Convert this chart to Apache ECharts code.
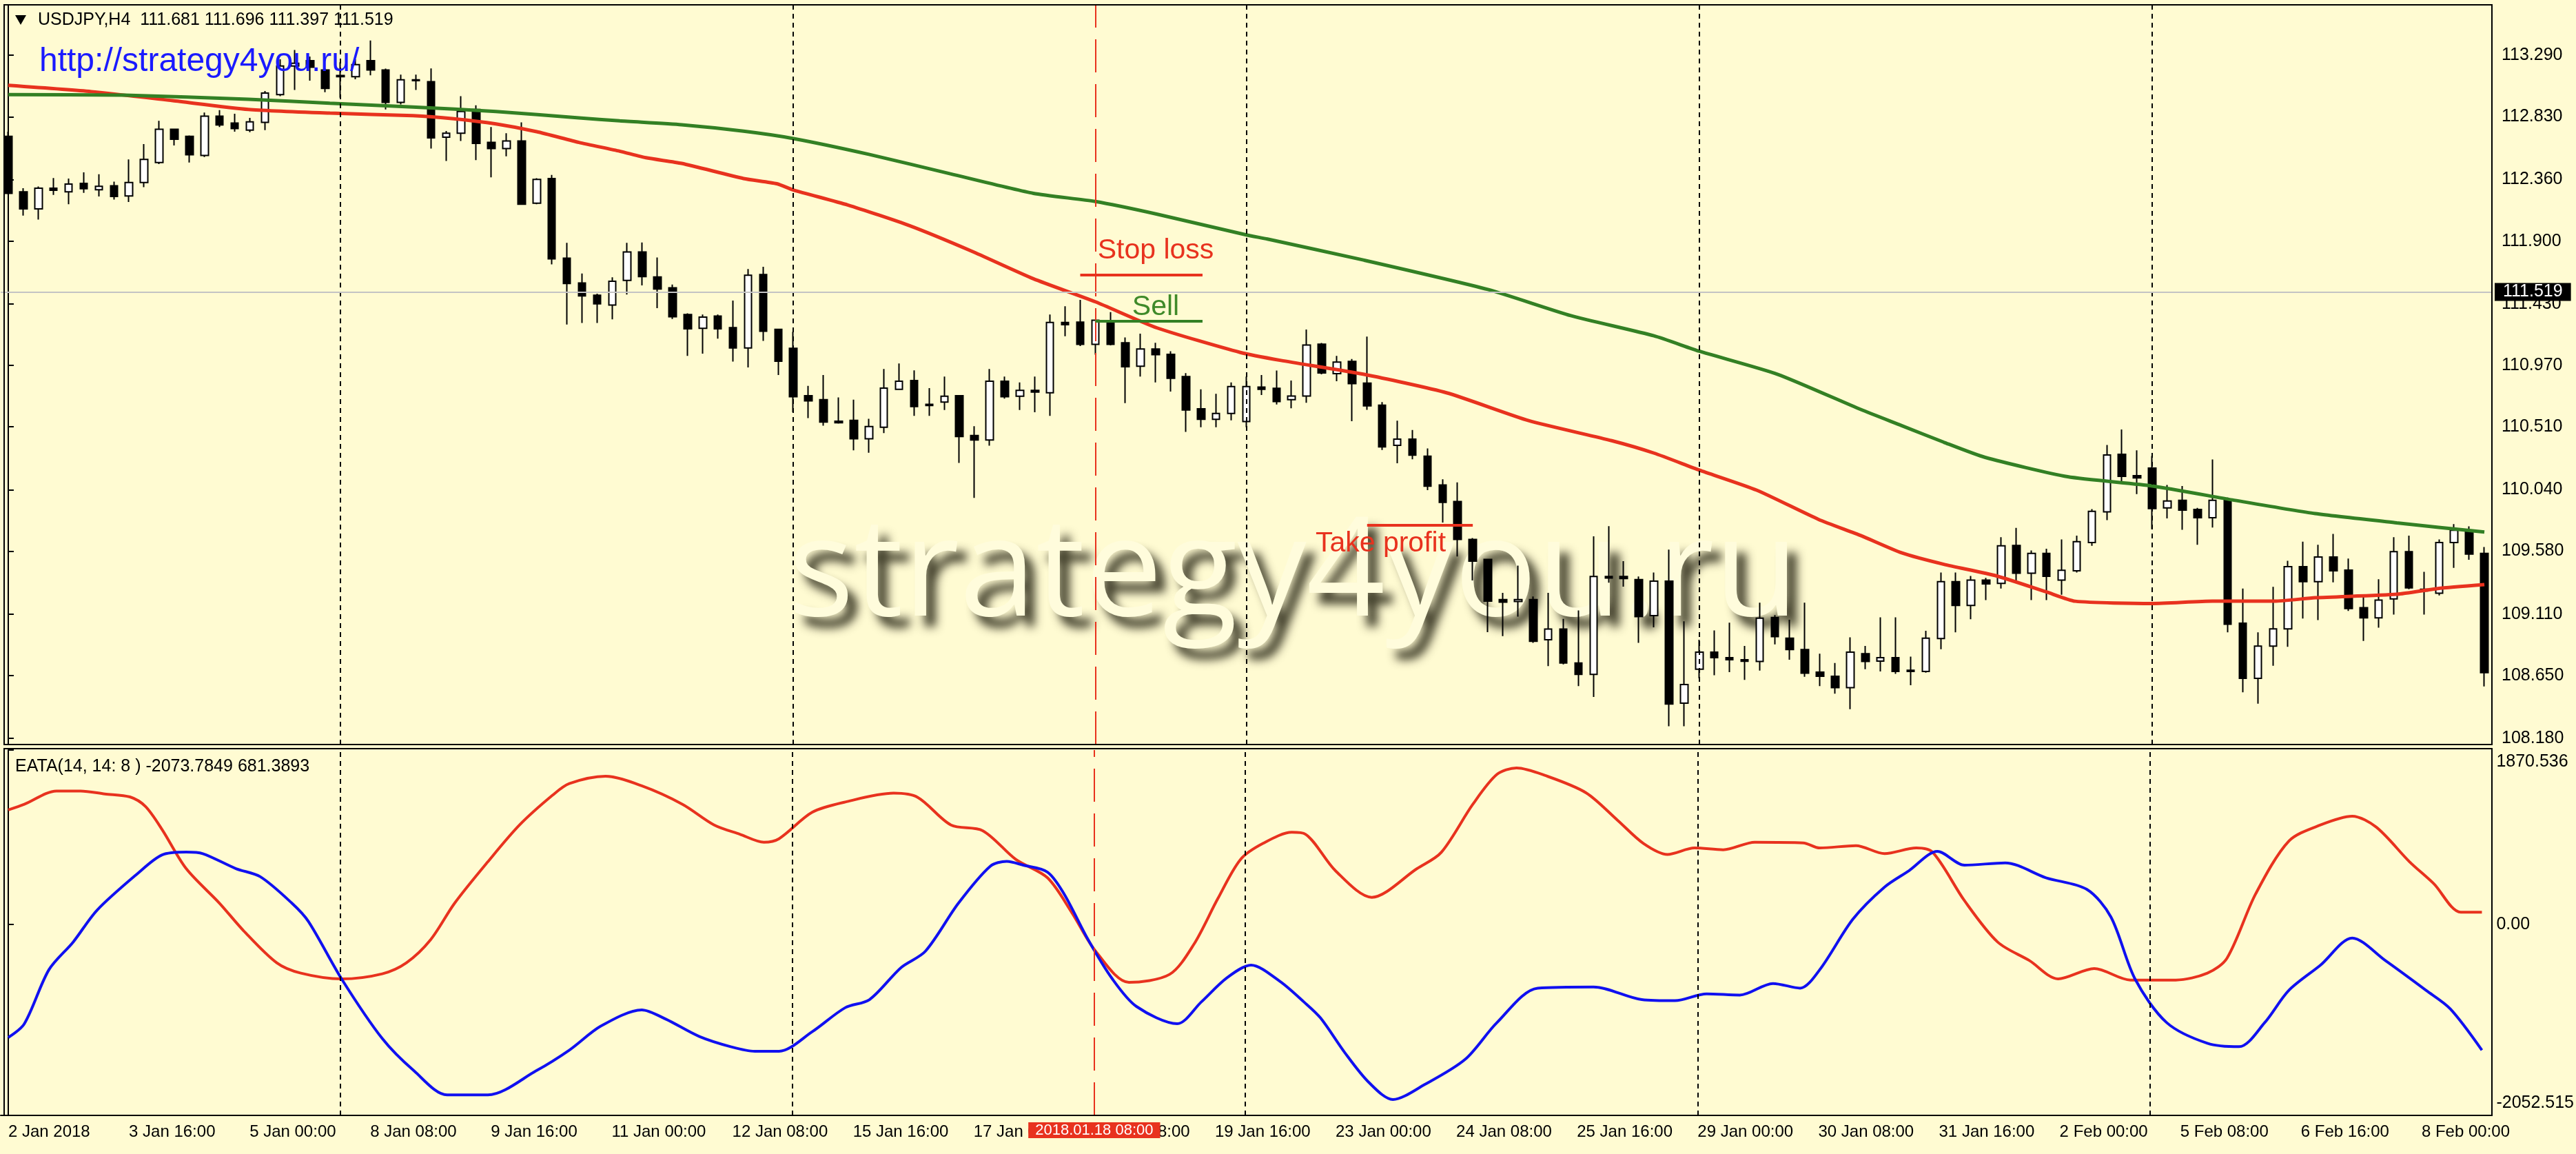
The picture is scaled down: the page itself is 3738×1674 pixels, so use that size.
<!DOCTYPE html>
<html>
<head>
<meta charset="utf-8">
<title>USDJPY H4 - EATA</title>
<script src="https://cdn.jsdelivr.net/npm/echarts@6/dist/echarts.min.js"></script>
<style>
  html, body { margin: 0; padding: 0; background: #fffbd2; }
  #chart { width: 3738px; height: 1674px; }
</style>
</head>
<body>
<div id="chart"></div>
<script>
// x axis labels, one every 8 bars (H4)
const tickLabels = ['2 Jan 2018', '3 Jan 16:00', '5 Jan 00:00', '8 Jan 08:00', '9 Jan 16:00', '11 Jan 00:00',
  '12 Jan 08:00', '15 Jan 16:00', '17 Jan 00:00', '18 Jan 08:00', '19 Jan 16:00', '23 Jan 00:00', '24 Jan 08:00',
  '25 Jan 16:00', '29 Jan 00:00', '30 Jan 08:00', '31 Jan 16:00', '2 Feb 00:00', '5 Feb 08:00', '6 Feb 16:00', '8 Feb 00:00'];
const labelStep = 8;

const openVals = [
  112.684, 112.268, 112.141, 112.296, 112.268, 112.331, 112.284, 112.314, 112.238, 112.338,
  112.488, 112.737, 112.684, 112.541, 112.834, 112.783, 112.730, 112.788, 112.995, 113.210,
  113.250, 113.180, 113.139, 113.130, 113.250, 113.180, 112.938, 113.106, 113.092, 112.677,
  112.707, 112.885, 112.638, 112.592, 112.649, 112.183, 112.368, 111.772, 111.587, 111.495,
  111.421, 111.606, 111.818, 111.632, 111.550, 111.351, 111.248, 111.339, 111.253, 111.101,
  111.650, 111.239, 111.098, 110.743, 110.714, 110.553, 110.559, 110.421, 110.507, 110.791,
  110.857, 110.679, 110.696, 110.743, 110.446, 110.412, 110.851, 110.739, 110.783, 110.765,
  111.291, 111.294, 111.127, 111.300, 111.139, 110.964, 111.093, 111.053, 110.886, 110.645,
  110.567, 110.610, 110.550, 110.808, 110.799, 110.714, 110.741, 111.129, 110.908, 111.000,
  110.838, 110.672, 110.372, 110.418, 110.291, 110.076, 109.952, 109.668, 109.518, 109.218,
  109.204, 109.218, 108.918, 108.998, 108.744, 108.659, 109.391, 109.391, 109.368, 109.098,
  109.356, 108.444, 108.698, 108.825, 108.784, 108.768, 108.756, 109.084, 108.929, 108.844,
  108.675, 108.645, 108.560, 108.814, 108.758, 108.784, 108.689, 108.680, 108.927, 109.352,
  109.175, 109.364, 109.340, 109.623, 109.416, 109.564, 109.364, 109.433, 109.645, 109.875,
  110.305, 110.145, 110.202, 109.904, 109.961, 109.892, 109.830, 109.964, 109.042, 108.629,
  108.870, 108.999, 109.464, 109.352, 109.537, 109.439, 109.158, 109.082, 109.223, 109.576,
  109.296, 109.266, 109.645, 109.723, 109.564
];
const closeVals = [
  112.257, 112.141, 112.296, 112.280, 112.326, 112.291, 112.310, 112.234, 112.338, 112.511,
  112.737, 112.661, 112.545, 112.834, 112.769, 112.742, 112.792, 113.007, 113.210, 113.230,
  113.200, 113.042, 113.130, 113.220, 113.180, 112.938, 113.106, 113.100, 112.672, 112.707,
  112.869, 112.631, 112.592, 112.649, 112.176, 112.361, 111.767, 111.583, 111.490, 111.430,
  111.599, 111.818, 111.634, 111.541, 111.334, 111.243, 111.331, 111.243, 111.101, 111.644,
  111.226, 111.001, 110.736, 110.705, 110.546, 110.541, 110.421, 110.512, 110.800, 110.851,
  110.662, 110.670, 110.739, 110.438, 110.412, 110.851, 110.736, 110.783, 110.770, 111.291,
  111.274, 111.127, 111.308, 111.127, 110.960, 111.093, 111.050, 110.874, 110.636, 110.567,
  110.610, 110.812, 110.812, 110.791, 110.700, 110.741, 111.122, 110.914, 110.995, 110.834,
  110.667, 110.360, 110.418, 110.298, 110.067, 109.945, 109.668, 109.506, 109.206, 109.199,
  109.218, 108.906, 108.998, 108.744, 108.659, 109.391, 109.379, 109.375, 109.091, 109.356,
  108.437, 108.583, 108.825, 108.784, 108.768, 108.757, 109.079, 108.941, 108.844, 108.668,
  108.645, 108.560, 108.825, 108.756, 108.784, 108.680, 108.680, 108.930, 109.352, 109.175,
  109.364, 109.335, 109.620, 109.416, 109.564, 109.392, 109.438, 109.651, 109.878, 110.300,
  110.140, 110.128, 109.899, 109.956, 109.887, 109.830, 109.961, 109.034, 108.629, 108.870,
  108.999, 109.464, 109.352, 109.537, 109.433, 109.151, 109.082, 109.214, 109.576, 109.306,
  109.283, 109.645, 109.737, 109.559, 108.672
];
const lowVals = [
  112.250, 112.091, 112.061, 112.245, 112.176, 112.261, 112.234, 112.211, 112.192, 112.303,
  112.476, 112.615, 112.488, 112.529, 112.753, 112.718, 112.714, 112.730, 112.984, 113.030,
  113.100, 113.014, 112.972, 113.110, 113.140, 112.885, 112.922, 113.030, 112.592, 112.499,
  112.649, 112.506, 112.377, 112.534, 112.170, 112.176, 111.726, 111.276, 111.287, 111.287,
  111.315, 111.500, 111.569, 111.398, 111.317, 111.041, 111.058, 111.170, 110.998, 110.955,
  111.153, 110.898, 110.619, 110.576, 110.519, 110.535, 110.334, 110.317, 110.464, 110.790,
  110.593, 110.593, 110.636, 110.240, 109.979, 110.369, 110.722, 110.636, 110.619, 110.593,
  111.188, 111.115, 111.050, 111.120, 110.688, 110.886, 110.843, 110.774, 110.472, 110.507,
  110.507, 110.559, 110.507, 110.748, 110.677, 110.649, 110.690, 110.903, 110.852, 110.552,
  110.637, 110.337, 110.238, 110.268, 110.037, 109.795, 109.541, 109.361, 108.975, 108.945,
  109.091, 108.894, 108.721, 108.733, 108.571, 108.490, 109.345, 109.315, 108.894, 109.010,
  108.271, 108.271, 108.629, 108.652, 108.675, 108.618, 108.687, 108.883, 108.768, 108.641,
  108.571, 108.514, 108.398, 108.698, 108.680, 108.663, 108.577, 108.672, 108.847, 108.973,
  109.071, 109.214, 109.301, 109.352, 109.214, 109.214, 109.254, 109.421, 109.620, 109.813,
  110.102, 110.007, 109.744, 109.826, 109.740, 109.628, 109.757, 108.973, 108.525, 108.439,
  108.723, 108.865, 109.077, 109.065, 109.347, 109.133, 108.909, 109.008, 109.106, 109.296,
  109.106, 109.249, 109.456, 109.516, 108.568
];
const highVals = [
  112.718, 112.296, 112.308, 112.372, 112.368, 112.414, 112.400, 112.345, 112.511, 112.626,
  112.799, 112.740, 112.690, 112.862, 112.880, 112.852, 112.822, 113.023, 113.260, 113.330,
  113.280, 113.192, 113.238, 113.260, 113.400, 113.190, 113.145, 113.145, 113.192, 112.723,
  112.984, 112.915, 112.753, 112.707, 112.788, 112.370, 112.395, 111.887, 111.657, 111.507,
  111.629, 111.887, 111.890, 111.777, 111.575, 111.360, 111.351, 111.351, 111.455, 111.691,
  111.708, 111.240, 111.222, 110.817, 110.898, 110.731, 110.714, 110.571, 110.943, 110.984,
  110.933, 110.800, 110.886, 110.745, 110.515, 110.943, 110.886, 110.843, 110.886, 111.351,
  111.412, 111.460, 111.310, 111.369, 111.179, 111.208, 111.139, 111.076, 110.912, 110.791,
  110.757, 110.843, 110.886, 110.898, 110.931, 110.857, 111.238, 111.138, 111.041, 111.018,
  111.185, 110.695, 110.557, 110.487, 110.349, 110.118, 110.095, 109.679, 109.520, 109.269,
  109.472, 109.241, 109.269, 109.074, 109.137, 109.691, 109.767, 109.506, 109.391, 109.421,
  109.592, 109.056, 108.918, 108.987, 109.045, 108.871, 109.195, 109.102, 109.068, 109.195,
  108.814, 108.744, 108.936, 108.871, 109.085, 109.085, 108.792, 108.985, 109.421, 109.421,
  109.395, 109.380, 109.685, 109.754, 109.585, 109.599, 109.668, 109.697, 109.895, 110.374,
  110.490, 110.335, 110.292, 110.076, 110.068, 109.904, 110.266, 109.981, 109.301, 108.973,
  109.313, 109.508, 109.651, 109.628, 109.709, 109.525, 109.254, 109.370, 109.685, 109.697,
  109.426, 109.668, 109.783, 109.766, 109.611
];

// moving averages, [bar, price]
const maRed = [[0, 113.065], [5.5, 113.018], [10.9, 112.95], [15.9, 112.885], [21.3, 112.857], [26.8, 112.838],
  [29.5, 112.815], [32.3, 112.776], [35, 112.718], [37.8, 112.638], [40.5, 112.572], [42.3, 112.522], [44.6, 112.481],
  [48.7, 112.368], [50.9, 112.329], [52, 112.282], [55.6, 112.17], [59.7, 112.015], [63.8, 111.825], [67.9, 111.618],
  [72, 111.446], [76.1, 111.25], [81.6, 111.067], [84.3, 111.007], [89.8, 110.903], [95.3, 110.764], [100.7, 110.557],
  [106.2, 110.407], [109, 110.314], [112, 110.187], [115.8, 110.037], [119.9, 109.818], [122.7, 109.697],
  [125.4, 109.568], [128.2, 109.482], [131.7, 109.395], [135, 109.275], [136.9, 109.206], [142, 109.189],
  [146, 109.206], [150.1, 109.206], [152.8, 109.232], [158.2, 109.258], [160.9, 109.301], [164, 109.33]];
const maGreen = [[0, 112.995], [7.7, 112.991], [15.9, 112.961], [21.3, 112.931], [26.8, 112.903], [32.3, 112.869],
  [37.8, 112.822], [40.5, 112.799], [44.6, 112.77], [48.7, 112.722], [52, 112.667], [57, 112.549], [62.4, 112.403],
  [67.9, 112.257], [72, 112.196], [76.1, 112.101], [82, 111.946], [83.4, 111.915], [89.8, 111.757], [98, 111.538],
  [103.5, 111.342], [109, 111.191], [112, 111.076], [117.2, 110.903], [122.7, 110.64], [125.4, 110.52],
  [128.2, 110.395], [130.9, 110.283], [136.4, 110.137], [142, 110.068], [147.3, 109.964], [152.8, 109.861],
  [158.2, 109.792], [164, 109.723]];

// EATA indicator lines
const eataRed = [[0, 1227], [1.07, 1288], [3.2, 1431], [4.8, 1431], [6.4, 1399], [8.07, 1367], [9.1, 1264],
  [10.2, 1017], [11.8, 597], [14, 227], [15.6, -69], [17.8, -414], [19.4, -525], [22.1, -587], [24.8, -532],
  [26.4, -414], [28, -167], [29.6, 227], [31.8, 671], [33.9, 1066], [36.1, 1387], [37.2, 1510], [39.6, 1589],
  [42, 1486], [44.7, 1288], [46.8, 1066], [48.5, 967], [50.1, 881], [51.1, 918], [53.3, 1202], [55.5, 1313],
  [58.7, 1407], [60.3, 1362], [62.5, 1066], [64.6, 1005], [66.8, 696], [68.9, 499], [70.5, 129], [72.1, -291],
  [74.3, -624], [77, -538], [78.6, -217], [80.2, 277], [81.7, 696], [83.2, 869], [85.1, 987], [86, 967],
  [88, 573], [90.4, 289], [93.4, 597], [95, 770], [97.1, 1288], [98.7, 1609], [100, 1678], [101.9, 1597],
  [104.6, 1412], [106.7, 1116], [108.4, 869], [110, 750], [111.8, 819], [113.7, 800], [115.8, 881], [119, 874],
  [120.1, 819], [122.5, 844], [124.4, 758], [126.5, 819], [127.6, 770], [129.7, 252], [131.9, -192], [134, -390],
  [135.9, -587], [138.3, -476], [140.7, -599], [143.7, -599], [145.8, -525], [147.1, -365], [149, 326],
  [151.2, 893], [153.3, 1066], [155.4, 1160], [157, 1042], [159.2, 671], [160.8, 437], [162.6, 129], [164, 129]];
const eataBlue = [[0, -1216], [1.07, -1068], [2.7, -488], [4.3, -192], [5.9, 153], [8.6, 548], [10.2, 745],
  [11.8, 775], [12.9, 758], [15.1, 597], [16.7, 511], [18.8, 227], [19.9, 30], [22.1, -587], [24.8, -1228],
  [26.9, -1574], [29.1, -1833], [31.8, -1833], [35, -1574], [37.2, -1352], [39.3, -1093], [42, -920],
  [43.6, -1019], [45.8, -1204], [47.9, -1315], [49.5, -1364], [51.1, -1364], [53.3, -1154], [55.5, -895],
  [57.1, -809], [59.2, -464], [60.8, -291], [63, 227], [65.1, 622], [66.2, 676], [67.3, 634], [68.9, 560],
  [70, 326], [71.6, -167], [73.2, -587], [74.8, -883], [77.5, -1068], [79.1, -834], [80.8, -575], [82.4, -439],
  [84.3, -612], [85.9, -834], [87, -1006], [88.6, -1376], [90.2, -1697], [91.8, -1882], [93.9, -1722],
  [96.6, -1450], [98.7, -1056], [101.4, -686], [105.1, -673], [108.3, -809], [110.5, -821], [112.6, -747],
  [114.8, -760], [117, -636], [118.8, -686], [120.1, -488], [122.3, 55], [124.4, 400], [126, 573], [127.9, 782],
  [129.7, 634], [132.4, 659], [135.1, 499], [137.8, 375], [139.4, 79], [141, -587], [143.1, -1056],
  [145.8, -1278], [147.9, -1315], [149.6, -1056], [151.2, -710], [153.3, -439], [155.4, -148], [157.6, -390],
  [160.3, -710], [161.9, -908], [164, -1352]];

const priceTicks = [108.18, 108.65, 109.11, 109.58, 110.04, 110.51, 110.97, 111.43, 111.90, 112.36, 112.83, 113.29];
const eataTicks = [-2052.515, 0, 1870.536];
const weekLines = [22, 52, 82, 112, 142];
const signalBar = 72;
const signalLabel = '2018.01.18 08:00';
const lastPrice = 111.519;
const stopLoss = { from: 71, to: 79.1, price: 111.649 };
const sellLevel = { from: 72, to: 79.1, price: 111.300 };
const takeProfit = { from: 90, to: 97, price: 109.775 };
const notes = [
  { text: 'Stop loss', bar: 76, price: 111.829, color: '#e8321e' },
  { text: 'Sell', bar: 76, price: 111.406, color: '#3f8a2a' },
  { text: 'Take profit', bar: 90.9, price: 109.637, color: '#e8321e' }
];

const categories = openVals.map((_, i) => i);
const candleData = openVals.map((o, i) => [o, closeVals[i], lowVals[i], highVals[i]]);

const font = '"Liberation Sans", Arial, sans-serif';
const RED = '#e8321e';
const GREEN = '#338024';
const BLUE = '#1010f0';

const chart = echarts.init(document.getElementById('chart'));

function guideLines() {
  return weekLines.map(x => ({ xAxis: x, lineStyle: { color: '#000', type: [7, 6], width: 2 } }));
}

function segment(s, color) {
  return [
    { coord: [s.from, s.price], lineStyle: { color: color, width: 4, type: 'solid' } },
    { coord: [s.to, s.price] }
  ];
}

const option = {
  backgroundColor: '#fffbd2',
  animation: false,
  textStyle: { fontFamily: font },
  grid: [
    { left: 1, top: 8, width: 3615, height: 1072 },
    { left: 1, top: 1088, width: 3615, height: 530 }
  ],
  xAxis: [
    { type: 'category', gridIndex: 0, data: categories, boundaryGap: true, show: false },
    {
      type: 'category', gridIndex: 1, data: categories, boundaryGap: true,
      axisLine: { onZero: false, lineStyle: { color: '#000', width: 2 } },
      axisTick: { interval: i => i % labelStep === 0, alignWithLabel: true, length: 8, lineStyle: { color: '#000', width: 2 } },
      axisLabel: {
        interval: i => i % labelStep === 0,
        formatter: (v, i) => tickLabels[i / labelStep] || '',
        align: 'left', color: '#000', fontSize: 24, margin: 12
      },
      splitLine: { show: false }
    },
    { type: 'value', gridIndex: 0, min: -0.5, max: 164.5, show: false },
    { type: 'value', gridIndex: 1, min: -0.5, max: 164.5, show: false }
  ],
  yAxis: [
    {
      type: 'value', gridIndex: 0, position: 'right', min: 108.134, max: 113.662,
      axisLine: { show: true, lineStyle: { color: '#000', width: 2 } },
      axisTick: { show: true, customValues: priceTicks, length: 8, lineStyle: { color: '#000', width: 2 } },
      axisLabel: { customValues: priceTicks, formatter: v => v.toFixed(3), color: '#000', fontSize: 25, margin: 14 },
      splitLine: { show: false }
    },
    {
      type: 'value', gridIndex: 1, position: 'right', min: -2052.515, max: 1870.536,
      axisLine: { show: true, lineStyle: { color: '#000', width: 2 } },
      axisTick: { show: true, customValues: eataTicks, length: 8, lineStyle: { color: '#000', width: 2 } },
      axisLabel: {
        customValues: eataTicks, color: '#000', fontSize: 25, margin: 10,
        formatter: v => v > 0 ? '{t|' + v.toFixed(3) + '}' : (v < 0 ? '{b|' + v.toFixed(3) + '}' : v.toFixed(2)),
        rich: {
          t: { padding: [34, 0, 0, 0], fontSize: 25, color: '#000' },
          b: { padding: [0, 0, 36, 0], fontSize: 25, color: '#000' }
        }
      },
      splitLine: { show: false }
    }
  ],
  series: [
    {
      name: 'guides', type: 'line', xAxisIndex: 2, yAxisIndex: 0, data: maGreen.slice(0, 1), showSymbol: false,
      lineStyle: { opacity: 0 }, z: 2, silent: true,
      markLine: {
        symbol: 'none', silent: true, label: { show: false },
        data: guideLines().concat([
          { xAxis: signalBar, lineStyle: { color: RED, type: [48, 17], width: 2 } },
          {
            yAxis: lastPrice, lineStyle: { color: '#c4c4c4', type: 'solid', width: 2 },
            label: {
              show: true, position: 'end', formatter: lastPrice.toFixed(3), distance: 4,
              color: '#fff', backgroundColor: '#000', padding: [1, 12, 0, 12], fontSize: 25
            }
          }
        ])
      }
    },
    {
      name: 'USDJPY', type: 'candlestick', xAxisIndex: 0, yAxisIndex: 0, data: candleData,
      barWidth: 11, z: 3,
      itemStyle: { color: '#fff', color0: '#000', borderColor: '#000', borderColor0: '#000', borderWidth: 2 }
    },
    {
      name: 'MA fast', type: 'line', xAxisIndex: 2, yAxisIndex: 0, data: maRed, showSymbol: false,
      smooth: 0.2, lineStyle: { color: RED, width: 5 }, z: 4
    },
    {
      name: 'MA slow', type: 'line', xAxisIndex: 2, yAxisIndex: 0, data: maGreen, showSymbol: false,
      smooth: 0.2, lineStyle: { color: GREEN, width: 5 }, z: 4,
      markLine: {
        symbol: 'none', silent: true, label: { show: false },
        data: [segment(stopLoss, RED), segment(sellLevel, GREEN), segment(takeProfit, RED)]
      },
      markPoint: {
        silent: true, symbol: 'circle', symbolSize: 1, itemStyle: { color: 'rgba(0,0,0,0)' },
        data: notes.map(n => ({
          coord: [n.bar, n.price],
          label: { show: true, position: 'inside', formatter: n.text, color: n.color, fontSize: 41, fontFamily: font }
        }))
      }
    },
    {
      name: 'EATA red', type: 'line', xAxisIndex: 3, yAxisIndex: 1, data: eataRed, showSymbol: false,
      smooth: 0.3, lineStyle: { color: RED, width: 4 }, z: 4,
      markLine: {
        symbol: 'none', silent: true, label: { show: false },
        data: guideLines().concat([{
          xAxis: signalBar, lineStyle: { color: RED, type: [48, 17], width: 2 },
          label: {
            show: true, position: 'start', formatter: signalLabel, distance: 10,
            color: '#fff', backgroundColor: RED, padding: [1, 10, 0, 10], fontSize: 22
          }
        }])
      }
    },
    {
      name: 'EATA blue', type: 'line', xAxisIndex: 3, yAxisIndex: 1, data: eataBlue, showSymbol: false,
      smooth: 0.3, lineStyle: { color: BLUE, width: 4 }, z: 4
    }
  ],
  graphic: [
    {
      type: 'text', x: 1877, y: 836, z: 0, silent: true,
      style: {
        text: 'strategy4you.ru', font: '200px "Open Sans", ' + font, fill: '#fffcdc',
        align: 'center', verticalAlign: 'middle',
        textShadowBlur: 14, textShadowColor: 'rgba(45,43,25,0.9)', textShadowOffsetX: 14, textShadowOffsetY: 16
      }
    },
    { type: 'rect', z: 50, silent: true, shape: { x: 6, y: 7, width: 3610, height: 1073 }, style: { fill: 'none', stroke: '#000', lineWidth: 2 } },
    { type: 'rect', z: 50, silent: true, shape: { x: 6, y: 1086, width: 3610, height: 532 }, style: { fill: 'none', stroke: '#000', lineWidth: 2 } },
    {
      type: 'polygon', z: 60, silent: true,
      shape: { points: [[22, 22], [38, 22], [30, 36]] }, style: { fill: '#000' }
    },
    {
      type: 'text', x: 55, y: 29, z: 60, silent: true,
      style: { text: 'USDJPY,H4  111.681 111.696 111.397 111.519', font: '25px ' + font, fill: '#000', verticalAlign: 'middle' }
    },
    {
      type: 'text', x: 57, y: 90, z: 60, silent: true,
      style: { text: 'http://strategy4you.ru/', font: '48px ' + font, fill: '#1a1aff', verticalAlign: 'middle' }
    },
    {
      type: 'text', x: 22, y: 1112, z: 60, silent: true,
      style: { text: 'EATA(14, 14: 8 ) -2073.7849 681.3893', font: '25px ' + font, fill: '#000', verticalAlign: 'middle' }
    }
  ]
};

chart.setOption(option);
</script>
</body>
</html>
